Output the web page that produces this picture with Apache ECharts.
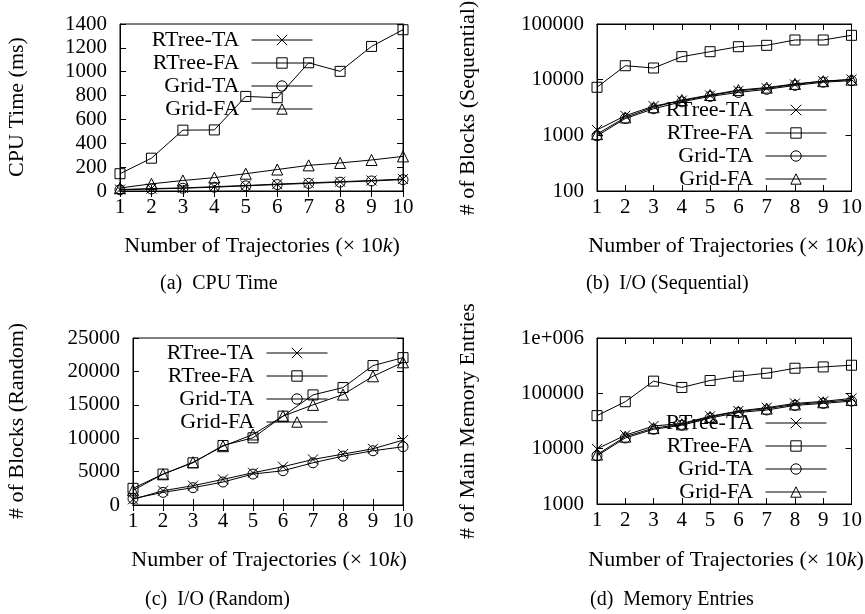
<!DOCTYPE html>
<html>
<head>
<meta charset="utf-8">
<script src="https://cdn.jsdelivr.net/npm/echarts@6/dist/echarts.min.js"></script>
<style>
html,body{margin:0;padding:0;background:#fff;}
#chart{width:865px;height:614px;}
</style>
</head>
<body>
<div id="chart"></div>
<script>
// ---- data ----
const xValues = [1, 2, 3, 4, 5, 6, 7, 8, 9, 10];
const seriesNames = ['RTree-TA', 'RTree-FA', 'Grid-TA', 'Grid-FA'];

// (a) CPU Time (ms)
const cpuRTreeTA = [12, 20, 26, 36, 46, 58, 68, 78, 88, 100];
const cpuRTreeFA = [145, 275, 510, 512, 793, 782, 1075, 1003, 1212, 1352];
const cpuGridTA  = [10, 17, 23, 32, 43, 54, 64, 74, 84, 95];
const cpuGridFA  = [25, 60, 88, 112, 145, 180, 215, 235, 260, 290];

// (b) I/O Sequential (# of blocks)
const seqRTreeTA = [1250, 2250, 3350, 4200, 5200, 6300, 7000, 8200, 9400, 10100];
const seqRTreeFA = [7300, 17800, 16200, 25900, 31800, 39100, 41400, 51600, 51600, 62600];
const seqGridTA  = [980, 2000, 3000, 4000, 5000, 5900, 6700, 7900, 9000, 9600];
const seqGridFA  = [1050, 2100, 3200, 4300, 5300, 6500, 7200, 8400, 9400, 10000];

// (c) I/O Random (# of blocks)
const rndRTreeTA = [850, 2140, 2890, 3830, 4830, 5730, 6820, 7620, 8420, 9710];
const rndRTreeFA = [2490, 4630, 6320, 8910, 10060, 13300, 16480, 17580, 20870, 22060];
const rndGridTA  = [950, 1890, 2590, 3440, 4630, 5130, 6320, 7320, 8120, 8720];
const rndGridFA  = [2200, 4600, 6400, 8800, 10560, 13300, 14990, 16530, 19270, 21360];

// (d) Memory entries
const memRTreeTA = [9900, 17500, 25700, 28500, 38500, 47900, 55000, 65800, 71500, 80900];
const memRTreeFA = [39500, 70500, 166000, 127700, 170600, 204000, 231000, 284000, 300000, 322000];
const memGridTA  = [7420, 15600, 22400, 26500, 35800, 45000, 50000, 60500, 65800, 72400];
const memGridFA  = [7800, 16500, 23500, 27500, 37500, 47000, 53000, 63000, 69000, 76000];

const xTickLabels = ['1', '2', '3', '4', '5', '6', '7', '8', '9', '10'];
const yLabels = ['CPU Time (ms)', '# of Blocks (Sequential)', '# of Blocks (Random)', '# of Main Memory Entries'];
const xLabel = 'Number of Trajectories (\u00d7 10{i|k})';
const captions = ['(a)  CPU Time', '(b)  I/O (Sequential)', '(c)  I/O (Random)', '(d)  Memory Entries'];

// ---- chart ----
const FONT = 'Liberation Serif';
const panels = [
  { data: [cpuRTreeTA, cpuRTreeFA, cpuGridTA, cpuGridFA], type: 'value', min: 0, max: 1400, interval: 200 },
  { data: [seqRTreeTA, seqRTreeFA, seqGridTA, seqGridFA], type: 'log', min: 100, max: 100000 },
  { data: [rndRTreeTA, rndRTreeFA, rndGridTA, rndGridFA], type: 'value', min: 0, max: 25000, interval: 5000 },
  { data: [memRTreeTA, memRTreeFA, memGridTA, memGridFA], type: 'log', min: 1000, max: 1000000 }
];
const grids = [
  { left: 120, top: 24, width: 283, height: 167 },
  { left: 597, top: 24, width: 257, height: 167 },
  { left: 133, top: 338, width: 270, height: 167 },
  { left: 597, top: 338, width: 257, height: 166 }
];
const legendPos = [
  { right: 552, top: 29 },
  { right: 38, top: 99 },
  { right: 537, top: 342 },
  { right: 38, top: 412 }
];
const symbols = [
  'path://M0,0L10,10M0,10L10,0',
  'rect',
  'circle',
  'triangle'
];
const symbolSizes = [10, 10, 10, 11];

const axisLineStyle = { show: true, lineStyle: { color: '#000', width: 1 } };
const tickStyle = { show: true, inside: true, length: 6, lineStyle: { color: '#000', width: 1 } };

const xAxes = [], yAxes = [], series = [], legends = [];
panels.forEach((p, gi) => {
  xAxes.push({
    gridIndex: gi, type: 'value', min: 1, max: 10, interval: 1, position: 'bottom',
    axisLine: axisLineStyle, axisTick: tickStyle, splitLine: { show: false },
    axisLabel: { color: '#000', fontFamily: FONT, fontSize: 21, margin: 6,
      showMinLabel: true, showMaxLabel: true,
      formatter: v => xTickLabels[Math.round(v) - 1] }
  });
  xAxes.push({
    gridIndex: gi, type: 'value', min: 1, max: 10, interval: 1, position: 'top',
    axisLine: axisLineStyle, axisTick: tickStyle, splitLine: { show: false },
    axisLabel: { show: false }
  });
  const yBase = { gridIndex: gi, type: p.type, min: p.min, max: p.max,
    splitLine: { show: false }, axisLine: axisLineStyle, axisTick: tickStyle };
  if (p.interval) yBase.interval = p.interval;
  if (p.type === 'log') yBase.logBase = 10;
  yAxes.push(Object.assign({}, yBase, {
    position: 'left',
    axisLabel: { color: '#000', fontFamily: FONT, fontSize: 21, margin: 13,
      showMinLabel: true, showMaxLabel: true,
      formatter: v => (v >= 999999 && p.type === 'log') ? '1e+006' : String(Math.round(v)) }
  }));
  yAxes.push(Object.assign({}, yBase, { position: 'right', axisLabel: { show: false } }));

  p.data.forEach((vals, si) => {
    series.push({
      name: seriesNames[si], type: 'line',
      xAxisIndex: gi * 2, yAxisIndex: gi * 2,
      data: xValues.map((x, k) => [x, vals[k]]),
      symbol: symbols[si], symbolSize: symbolSizes[si], showAllSymbol: true,
      lineStyle: { color: '#000', width: 1 },
      itemStyle: { color: 'rgba(0,0,0,0)', borderColor: '#000', borderWidth: 1 },
      emphasis: { disabled: true },
      animation: false, z: 2
    });
  });

  legends.push(Object.assign({
    orient: 'vertical', align: 'right', padding: 0,
    itemWidth: 61, itemHeight: 13, itemGap: 1,
    data: seriesNames,
    selectedMode: false,
    lineStyle: { color: '#000', width: 1 },
    itemStyle: { color: 'rgba(0,0,0,0)', borderColor: '#000', borderWidth: 1 },
    textStyle: { color: '#000', fontFamily: FONT, fontSize: 22, lineHeight: 21, padding: [0, 7, 0, 0] }
  }, legendPos[gi]));
});

const graphics = [];
const yLabelPos = [[17, 107], [468, 108], [17, 421], [468, 421]];
yLabels.forEach((t, i) => {
  graphics.push({ type: 'text', x: yLabelPos[i][0], y: yLabelPos[i][1], rotation: Math.PI / 2,
    style: { text: t, fontFamily: FONT, fontSize: 22, fill: '#000', align: 'center', verticalAlign: 'middle' } });
});
const xLabelPos = [[262, 246], [726, 246], [269, 560], [726, 560]];
xLabelPos.forEach(pos => {
  graphics.push({ type: 'text', x: pos[0], y: pos[1],
    style: { text: xLabel, fontFamily: FONT, fontSize: 22, fill: '#000', align: 'center', verticalAlign: 'middle',
      rich: { i: { fontStyle: 'italic', fontFamily: FONT, fontSize: 22, fill: '#000' } } } });
});
const capPos = [[160, 284], [586, 284], [145, 600], [590, 600]];
captions.forEach((t, i) => {
  graphics.push({ type: 'text', x: capPos[i][0], y: capPos[i][1],
    style: { text: t, fontFamily: FONT, fontSize: 20, fill: '#000', align: 'left', verticalAlign: 'middle' } });
});

const chart = echarts.init(document.getElementById('chart'), null, { renderer: 'canvas' });
chart.setOption({
  backgroundColor: '#fff',
  animation: false,
  grid: grids.map(g => Object.assign({ show: true, borderColor: '#000', borderWidth: 1, backgroundColor: 'transparent', containLabel: false }, g)),
  xAxis: xAxes,
  yAxis: yAxes,
  legend: legends,
  series: series,
  graphic: graphics
});
</script>
</body>
</html>
